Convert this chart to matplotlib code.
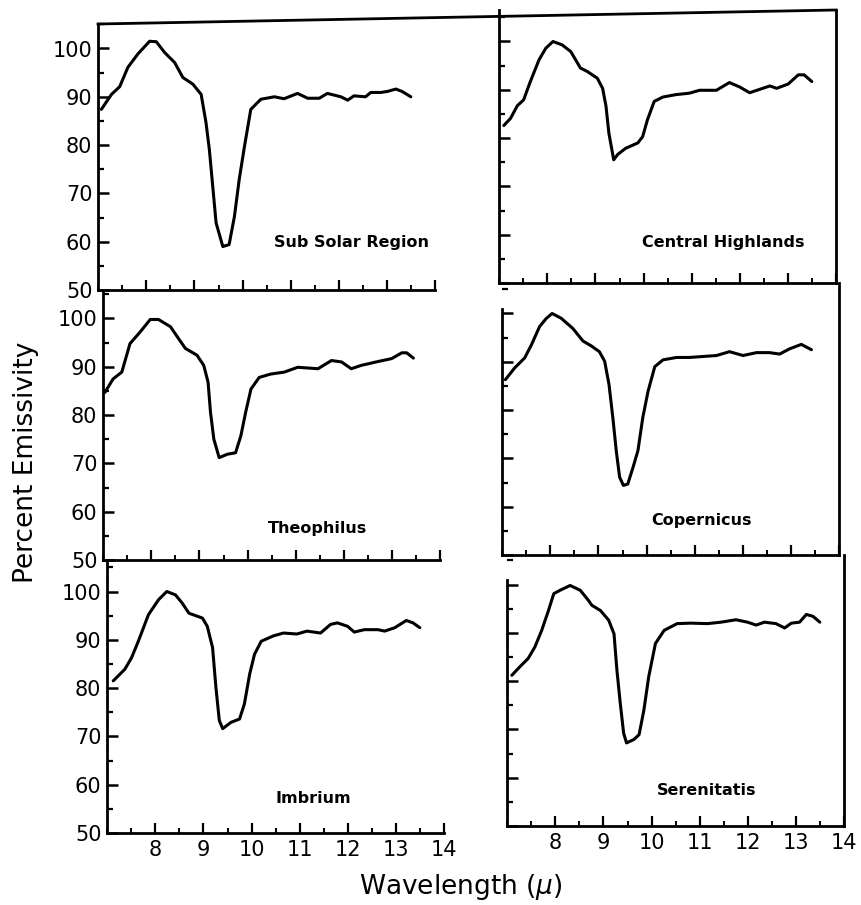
import matplotlib
matplotlib.use('Agg')
from matplotlib import pyplot as plt
from matplotlib.lines import Line2D
from matplotlib.ticker import MultipleLocator

wl_sub_solar = [7.07, 7.28, 7.45, 7.62, 7.83, 8.07, 8.21, 8.38, 8.59, 8.76,
                8.97, 9.14, 9.24, 9.31, 9.38, 9.45, 9.59, 9.72, 9.83, 9.93,
                10.04, 10.17, 10.38, 10.66, 10.86, 11.14, 11.35, 11.59, 11.76,
                12.04, 12.18, 12.31, 12.55, 12.66, 12.87, 13.00, 13.18, 13.31,
                13.49]
em_sub_solar = [87.4, 90.5, 92.1, 96.1, 98.9, 101.5, 101.4, 99.2, 97.1, 94.0,
                92.6, 90.5, 84.7, 79.1, 71.5, 63.9, 59.0, 59.4, 65.2, 72.9,
                79.8, 87.4, 89.5, 90.0, 89.6, 90.7, 89.7, 89.7, 90.7, 90.0,
                89.3, 90.2, 90.0, 90.9, 90.9, 91.1, 91.6, 91.1, 90.0]

wl_highlands = [7.10, 7.24, 7.38, 7.51, 7.65, 7.83, 7.97, 8.12, 8.31, 8.49,
                8.69, 8.83, 9.04, 9.15, 9.22, 9.28, 9.38, 9.46, 9.63, 9.88,
                9.98, 10.08, 10.22, 10.40, 10.67, 10.95, 11.16, 11.51, 11.78,
                11.99, 12.20, 12.41, 12.62, 12.76, 13.00, 13.21, 13.33, 13.49]
em_highlands = [82.6, 84.1, 86.7, 87.9, 91.7, 96.2, 98.6, 100.0, 99.3, 97.9,
                94.5, 93.8, 92.4, 90.3, 86.6, 81.0, 75.5, 76.6, 77.9, 79.0,
                80.3, 83.8, 87.6, 88.5, 89.0, 89.3, 89.9, 89.9, 91.5, 90.6,
                89.4, 90.1, 90.8, 90.3, 91.2, 93.1, 93.1, 91.7]

wl_theophilus = [7.04, 7.21, 7.39, 7.56, 7.77, 7.98, 8.15, 8.40, 8.57, 8.71,
                 8.95, 9.09, 9.18, 9.23, 9.30, 9.41, 9.58, 9.75, 9.86, 9.96,
                 10.07, 10.24, 10.48, 10.76, 11.04, 11.32, 11.46, 11.74, 11.95,
                 12.15, 12.36, 12.71, 12.99, 13.20, 13.30, 13.44]
em_theophilus = [84.7, 87.5, 88.9, 94.8, 97.2, 99.8, 99.8, 98.3, 95.8, 93.8,
                 92.4, 90.3, 86.8, 80.6, 75.0, 71.2, 71.9, 72.2, 75.7, 80.6,
                 85.4, 87.8, 88.5, 88.9, 89.9, 89.7, 89.6, 91.3, 91.0, 89.6,
                 90.3, 91.1, 91.7, 92.9, 92.9, 91.8]

wl_copernicus = [7.07, 7.26, 7.47, 7.61, 7.78, 7.92, 8.04, 8.23, 8.47, 8.68,
                 8.85, 9.02, 9.13, 9.22, 9.30, 9.37, 9.44, 9.52, 9.61, 9.72,
                 9.82, 9.92, 10.03, 10.17, 10.34, 10.62, 10.89, 11.17, 11.45,
                 11.72, 12.00, 12.28, 12.55, 12.76, 12.97, 13.21, 13.42]
em_copernicus = [86.3, 88.7, 90.8, 93.5, 97.3, 99.0, 100.0, 99.0, 96.9, 94.3,
                 93.3, 92.1, 90.1, 85.3, 78.4, 71.6, 66.1, 64.4, 64.7, 68.2,
                 71.6, 78.4, 83.9, 89.0, 90.4, 90.9, 90.9, 91.1, 91.3, 92.1,
                 91.3, 91.9, 91.9, 91.6, 92.7, 93.6, 92.5]

wl_imbrium = [7.13, 7.37, 7.51, 7.65, 7.86, 8.07, 8.24, 8.42, 8.56, 8.70,
              8.98, 9.08, 9.19, 9.26, 9.33, 9.40, 9.57, 9.75, 9.85, 9.96,
              10.06, 10.20, 10.45, 10.66, 10.94, 11.15, 11.43, 11.64, 11.78,
              11.99, 12.13, 12.34, 12.62, 12.76, 12.97, 13.21, 13.35, 13.49]
em_imbrium = [81.5, 83.9, 86.3, 89.7, 95.2, 98.3, 100.0, 99.3, 97.6, 95.5,
              94.5, 92.8, 88.4, 80.1, 73.3, 71.6, 72.9, 73.6, 76.7, 82.9,
              87.0, 89.7, 90.8, 91.4, 91.2, 91.8, 91.4, 93.2, 93.5, 92.8,
              91.6, 92.1, 92.1, 91.8, 92.5, 94.0, 93.5, 92.5]

wl_serenitatis = [7.10, 7.27, 7.44, 7.58, 7.72, 7.86, 7.97, 8.10, 8.31, 8.52,
                  8.69, 8.76, 8.94, 9.11, 9.22, 9.28, 9.35, 9.42, 9.48, 9.63,
                  9.74, 9.84, 9.94, 10.08, 10.26, 10.53, 10.81, 11.16, 11.44,
                  11.75, 11.99, 12.17, 12.34, 12.58, 12.76, 12.90, 13.07, 13.21,
                  13.35, 13.49]
em_serenitatis = [81.2, 83.0, 84.7, 87.1, 90.5, 94.6, 98.1, 98.8, 99.8, 98.8,
                  96.7, 95.7, 94.6, 92.6, 89.8, 82.3, 75.4, 69.2, 67.2, 67.9,
                  68.9, 74.0, 80.9, 87.8, 90.5, 91.9, 92.0, 91.9, 92.2, 92.7,
                  92.2, 91.6, 92.2, 91.9, 91.0, 92.0, 92.2, 93.8, 93.4, 92.2]

region_names = ['Sub Solar Region', 'Central Highlands', 'Theophilus',
                'Copernicus', 'Imbrium', 'Serenitatis']
label_pos = [(12.25, 59.8), (11.66, 58.4), (11.44, 56.6),
             (11.13, 57.2), (11.29, 57.2), (11.15, 57.4)]
y_ticks = [50, 60, 70, 80, 90, 100]
x_ticks = [8, 9, 10, 11, 12, 13, 14]

W, H = 861, 905
X_PPU = 48.2   # pixels per micron
Y_PPU = 4.83   # pixels per percent

# panel boxes in pixels: left edge, bottom edge, top edge (the scan is slightly rotated)
boxes = [(98, 290, 24), (499, 283, 10),
         (103, 560, 290), (502, 555, 283),
         (107, 833, 560), (507, 826, 555)]

series = [(wl_sub_solar, em_sub_solar), (wl_highlands, em_highlands),
          (wl_theophilus, em_theophilus), (wl_copernicus, em_copernicus),
          (wl_imbrium, em_imbrium), (wl_serenitatis, em_serenitatis)]

fig = plt.figure(figsize=(W / 100, H / 100), dpi=100)

for i, ((wl, em), (left, bottom, top)) in enumerate(zip(series, boxes)):
    row, col = divmod(i, 2)
    width = 7 * X_PPU
    ax = fig.add_axes([left / W, 1 - bottom / H, width / W, (bottom - top) / H])
    ax.set_xlim(7, 14)
    ax.set_ylim(50, 50 + (bottom - top) / Y_PPU)
    ax.patch.set_alpha(0)
    ax.plot(wl, em, color='black', lw=2.2, solid_joinstyle='round',
            solid_capstyle='round')
    ax.text(label_pos[i][0], label_pos[i][1], region_names[i], ha='center',
            va='center', fontsize=11.5, fontweight='bold')

    for s in ax.spines.values():
        s.set_linewidth(2.0)
    ax.spines['top'].set_visible(False)
    if col == 0:
        ax.spines['right'].set_visible(False)
    elif row > 0:
        ax.spines['left'].set_bounds(50, 101)

    ax.set_xticks(x_ticks)
    ax.xaxis.set_minor_locator(MultipleLocator(0.5))
    ax.set_yticks(y_ticks)
    ax.yaxis.set_minor_locator(MultipleLocator(5))
    ax.tick_params(axis='x', which='major', direction='in', length=7, width=1.6,
                   labelsize=15, pad=5)
    ax.tick_params(axis='x', which='minor', direction='in', length=3.5, width=1.4)
    ax.tick_params(axis='y', which='major', direction='in', length=8, width=1.8,
                   labelsize=15, pad=4)
    ax.tick_params(axis='y', which='minor', direction='in', length=4, width=1.6)
    if row < 2:
        ax.tick_params(axis='x', labelbottom=False)
    if col == 1:
        ax.tick_params(axis='y', labelleft=False)

# continuous top border across both columns
fig.add_artist(Line2D([98 / W, 836 / W], [1 - 24 / H, 1 - 10 / H],
                      color='black', lw=2.0, transform=fig.transFigure))

fig.text(26 / W, 1 - 462 / H, 'Percent Emissivity', rotation=90,
         ha='center', va='center', fontsize=19)
fig.text(461 / W, 1 - 887 / H, 'Wavelength ($\\mu$)', ha='center',
         va='center', fontsize=19)

plt.savefig('out.png', dpi=100)
plt.close()
